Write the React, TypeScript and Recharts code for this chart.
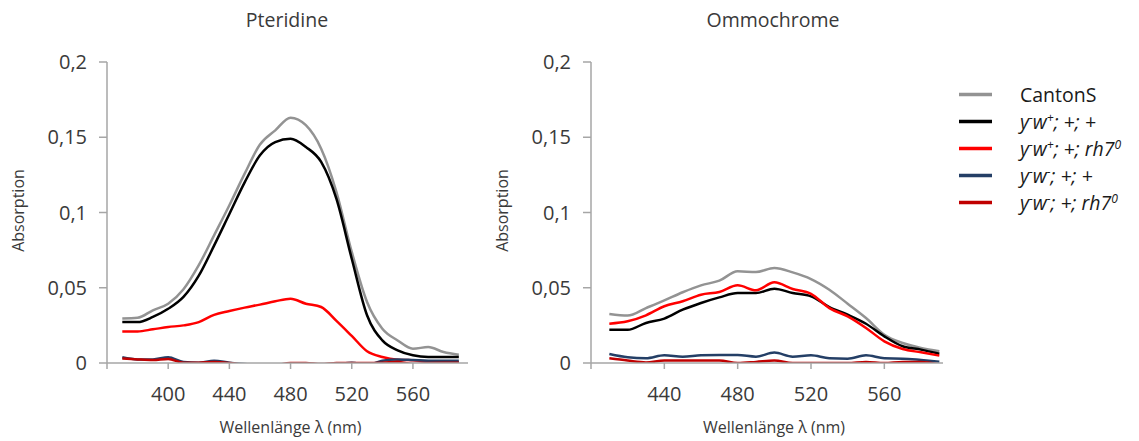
import React from 'react';
import { LineChart, Line, XAxis, YAxis, Label } from 'recharts';

// Wavelengths (nm) of each measurement series
const pteridineWavelengths = [370, 380, 390, 400, 410, 420, 430, 440, 450, 460, 470, 480, 490, 500, 510, 520, 530, 540, 550, 560, 570, 580, 590];
const ommochromeWavelengths = [410, 420, 430, 440, 450, 460, 470, 480, 490, 500, 510, 520, 530, 540, 550, 560, 570, 580, 590];

// Pteridine absorption
const ptCantonS = [0.0295, 0.030, 0.035, 0.0394, 0.049, 0.065, 0.0848, 0.1048, 0.1258, 0.1452, 0.1546, 0.163, 0.158, 0.1424, 0.1136, 0.0738, 0.0405, 0.0228, 0.015, 0.0095, 0.0106, 0.0073, 0.0055];
const ptYwPlus = [0.0272, 0.0272, 0.0306, 0.036, 0.0439, 0.058, 0.078, 0.099, 0.120, 0.138, 0.1468, 0.149, 0.1435, 0.1336, 0.109, 0.0693, 0.0317, 0.015, 0.0084, 0.0051, 0.004, 0.004, 0.004];
const ptYwPlusRh7 = [0.021, 0.021, 0.0224, 0.0239, 0.025, 0.0272, 0.032, 0.0345, 0.0368, 0.0388, 0.041, 0.0427, 0.0394, 0.0372, 0.0280, 0.0180, 0.0078, 0.004, 0.0022, 0.0018, 0.001, 0.0007, 0.0007];
const ptYwMinus = [0.0038, 0.0024, 0.0024, 0.0038, 0.0007, 0.0002, 0.0015, 0.0002, -0.0007, -0.0013, -0.0011, -0.002, -0.0015, -0.0011, -0.0007, 0.0002, -0.0011, 0.0015, 0.0024, 0.002, 0.0015, 0.0015, 0.0015];
const ptYwMinusRh7 = [0.003, 0.0024, 0.002, 0.0027, 0.0002, 0.0002, 0.0007, 0, -0.0013, -0.002, -0.0015, 0, 0, -0.0007, 0, 0, 0, 0.0002, 0.0007, -0.0007, 0, 0.0002, 0.0002];

// Ommochrome absorption
const omCantonS = [0.0326, 0.0315, 0.0365, 0.0416, 0.047, 0.0516, 0.0547, 0.0609, 0.0605, 0.0631, 0.0602, 0.0558, 0.0487, 0.0394, 0.0299, 0.0188, 0.0133, 0.010, 0.0078];
const omYwPlus = [0.0221, 0.0221, 0.0266, 0.0295, 0.0354, 0.0399, 0.0436, 0.0465, 0.0465, 0.0494, 0.0465, 0.0443, 0.0372, 0.0321, 0.0261, 0.0177, 0.0111, 0.0089, 0.0062];
const omYwPlusRh7 = [0.0261, 0.0277, 0.0317, 0.0377, 0.041, 0.0454, 0.0472, 0.0516, 0.0483, 0.0536, 0.0492, 0.046, 0.0365, 0.031, 0.0233, 0.0144, 0.0093, 0.0071, 0.0049];
const omYwMinus = [0.006, 0.0038, 0.0031, 0.0051, 0.0042, 0.0051, 0.0053, 0.0053, 0.0042, 0.0069, 0.0042, 0.0051, 0.0031, 0.0029, 0.0051, 0.0031, 0.0029, 0.002, 0.0009];
const omYwMinusRh7 = [0.0031, 0.0016, 0.0004, 0.0016, 0.0016, 0.0016, 0.0016, 0, 0.0007, 0.0016, 0, 0, 0, 0, 0.0007, 0, 0.0007, 0.0007, -0.001];

const yTicks = [0, 0.05, 0.1, 0.15, 0.2];
const ptXTicks = [360, 400, 440, 480, 520, 560];
const omXTicks = [400, 440, 480, 520, 560];

const seriesKeys = ['cantonS', 'ywPlus', 'ywPlusRh7', 'ywMinus', 'ywMinusRh7'];
const seriesColors: Record<string, string> = {
  cantonS: '#939393',
  ywPlus: '#000000',
  ywPlusRh7: '#ff0000',
  ywMinus: '#243f66',
  ywMinusRh7: '#c00000',
};

const buildRows = (nm: number[], cols: number[][]) =>
  nm.map((w, i) => {
    const row: Record<string, number> = { nm: w };
    seriesKeys.forEach((k, j) => {
      row[k] = cols[j][i];
    });
    return row;
  });

const pteridineRows = buildRows(pteridineWavelengths, [ptCantonS, ptYwPlus, ptYwPlusRh7, ptYwMinus, ptYwMinusRh7]);
const ommochromeRows = buildRows(ommochromeWavelengths, [omCantonS, omYwPlus, omYwPlusRh7, omYwMinus, omYwMinusRh7]);

const AXIS = '#a6a6a6';
const TEXT = '#3a3a3a';
const FONT = '"Open Sans", sans-serif';

const fmtY = (v: number) => String(v).replace('.', ',');

type PanelProps = {
  rows: Record<string, number>[];
  left: number;
  width: number;
  plotLeft: number;
  plotRight: number;
  xDomain: [number, number];
  xTicks: number[];
  hiddenTick: number;
  yLabelX: number;
  xLabelDx: number;
};

function Panel(p: PanelProps) {
  const yAxisWidth = p.plotLeft - p.left;
  const marginRight = p.left + p.width - p.plotRight;
  return (
    <div style={{ position: 'absolute', left: p.left, top: 0 }}>
      <LineChart
        width={p.width}
        height={441}
        data={p.rows}
        margin={{ top: 62, right: marginRight, bottom: 0, left: 0 }}
      >
        <XAxis
          dataKey="nm"
          type="number"
          domain={p.xDomain}
          ticks={p.xTicks}
          allowDataOverflow
          height={78}
          stroke={AXIS}
          strokeWidth={1.5}
          tickSize={6}
          tickMargin={18}
          tick={{ fontSize: 20, fill: TEXT }}
          tickLine={{ stroke: AXIS, strokeWidth: 1.5 }}
          tickFormatter={(v: number) => (v === p.hiddenTick ? '' : String(v))}
        >
          <Label
            content={(lp: any) => {
              const vb = lp.viewBox || {};
              return (
                <text
                  x={vb.x + vb.width / 2 + p.xLabelDx}
                  y={vb.y + 70}
                  textAnchor="middle"
                  fontSize={16}
                  fill={TEXT}
                >
                  Wellenlänge λ (nm)
                </text>
              );
            }}
          />
        </XAxis>
        <YAxis
          type="number"
          domain={[0, 0.2]}
          ticks={yTicks}
          allowDataOverflow
          width={yAxisWidth}
          stroke={AXIS}
          strokeWidth={1.5}
          tickSize={8}
          tickMargin={12}
          tick={{ fontSize: 20, fill: TEXT }}
          tickLine={{ stroke: AXIS, strokeWidth: 1.5 }}
          tickFormatter={fmtY}
        >
          <Label
            content={(lp: any) => {
              const vb = lp.viewBox || {};
              const cx = vb.x + p.yLabelX;
              const cy = vb.y + vb.height / 2 - 2;
              return (
                <text
                  x={cx}
                  y={cy}
                  transform={`rotate(-90 ${cx} ${cy})`}
                  textAnchor="middle"
                  dominantBaseline="central"
                  fontSize={16}
                  fill={TEXT}
                >
                  Absorption
                </text>
              );
            }}
          />
        </YAxis>
        {seriesKeys.map((k) => (
          <Line
            key={k}
            dataKey={k}
            type="monotone"
            stroke={seriesColors[k]}
            strokeWidth={2.5}
            dot={false}
            activeDot={false}
            isAnimationActive={false}
          />
        ))}
      </LineChart>
    </div>
  );
}

const sup = (s: string) => (
  <span style={{ fontSize: '0.62em', verticalAlign: '0.55em', lineHeight: 0 }}>{s}</span>
);

const legendItems: { key: string; label: React.ReactNode }[] = [
  { key: 'cantonS', label: <span>CantonS</span> },
  { key: 'ywPlus', label: <i>y{sup('-')}w{sup('+')}; +; +</i> },
  { key: 'ywPlusRh7', label: <i>y{sup('-')}w{sup('+')}; +; rh7{sup('0')}</i> },
  { key: 'ywMinus', label: <i>y{sup('-')}w{sup('-')}; +; +</i> },
  { key: 'ywMinusRh7', label: <i>y{sup('-')}w{sup('-')}; +; rh7{sup('0')}</i> },
];

function Title({ text, center }: { text: string; center: number }) {
  return (
    <div
      style={{
        position: 'absolute',
        left: center - 150,
        width: 300,
        top: 10,
        textAlign: 'center',
        fontSize: 19.5,
        lineHeight: '19.5px',
        color: TEXT,
      }}
    >
      {text}
    </div>
  );
}

export default function App() {
  return (
    <div
      style={{
        position: 'absolute',
        left: 0,
        top: 0,
        width: 1139,
        height: 441,
        background: '#ffffff',
        fontFamily: FONT,
        overflow: 'hidden',
      }}
    >
      <Title text="Pteridine" center={287} />
      <Title text="Ommochrome" center={773} />
      <Panel
        rows={pteridineRows}
        left={0}
        width={480}
        plotLeft={107}
        plotRight={468}
        xDomain={[360, 596]}
        xTicks={ptXTicks}
        hiddenTick={360}
        yLabelX={18}
        xLabelDx={3}
      />
      <Panel
        rows={ommochromeRows}
        left={480}
        width={659}
        plotLeft={591}
        plotRight={943}
        xDomain={[400, 592]}
        xTicks={omXTicks}
        hiddenTick={400}
        yLabelX={22}
        xLabelDx={7}
      />
      <div style={{ position: 'absolute', left: 959, top: 81, color: '#1a1a1a' }}>
        {legendItems.map((it) => (
          <div key={it.key} style={{ display: 'flex', alignItems: 'center', height: 27 }}>
            <svg width={33} height={27} style={{ display: 'block' }}>
              <line x1={0} x2={33} y1={13.5} y2={13.5} stroke={seriesColors[it.key]} strokeWidth={3.5} />
            </svg>
            <div style={{ marginLeft: 28, fontSize: 19.5, lineHeight: '27px', whiteSpace: 'nowrap' }}>{it.label}</div>
          </div>
        ))}
      </div>
    </div>
  );
}
